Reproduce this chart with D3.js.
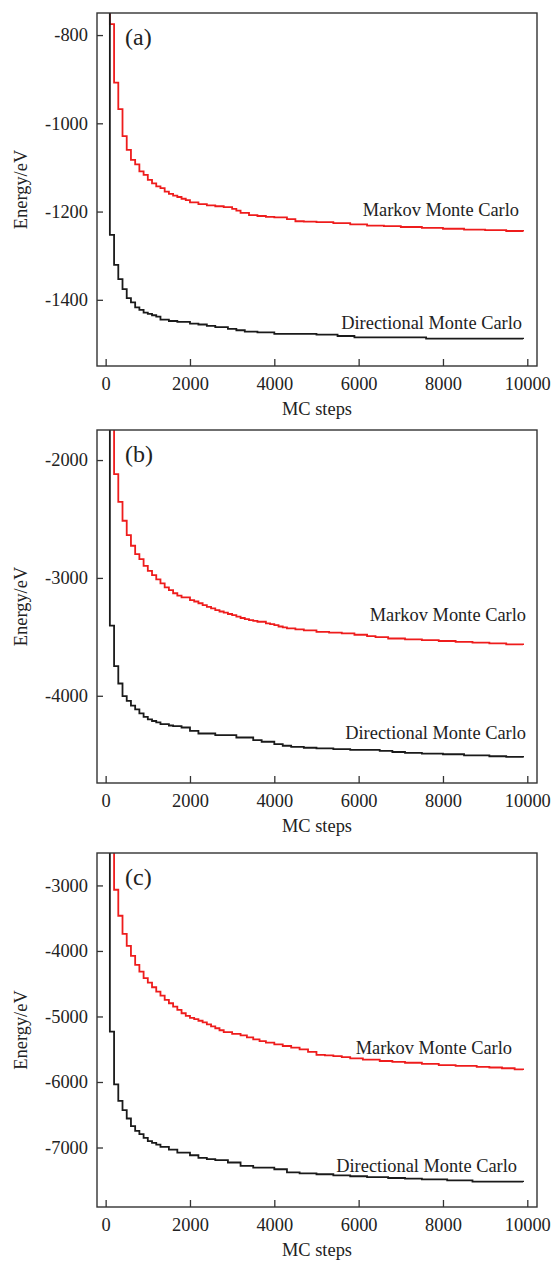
<!DOCTYPE html>
<html>
<head>
<meta charset="utf-8">
<script src="https://cdn.jsdelivr.net/npm/d3@7"></script>
<style>
  body { margin: 0; background: #fff; }
  svg text { font-family: "Liberation Serif", "DejaVu Serif", serif; fill: #222; }
</style>
</head>
<body>
<svg id="chart"></svg>
<script>
// --- Data: [MC step, energy (eV)] ---
const xTicks = [0, 2000, 4000, 6000, 8000, 10000];

const markovA = [[0,-600],[100,-775],[200,-908],[300,-968],[400,-1029],[500,-1060],[600,-1083],[700,-1093],[800,-1109],[900,-1117],[1000,-1128],[1100,-1136],[1200,-1143],[1300,-1147],[1400,-1155],[1500,-1160],[1600,-1164],[1700,-1167],[1800,-1171],[1900,-1174],[2000,-1179],[2200,-1183],[2400,-1186],[2600,-1188],[2800,-1190],[3000,-1194],[3100,-1198],[3200,-1203],[3400,-1208],[3600,-1210],[3800,-1212],[4000,-1213],[4300,-1217],[4500,-1222],[4700,-1223],[5000,-1224],[5400,-1226],[5800,-1229],[6200,-1232],[6600,-1233],[7000,-1235],[7500,-1237],[8000,-1239],[8500,-1241],[9000,-1242],[9500,-1244],[9900,-1245]];
const directionalA = [[0,-600],[100,-1253],[200,-1321],[300,-1353],[400,-1376],[500,-1396],[600,-1406],[700,-1417],[800,-1423],[900,-1429],[1000,-1432],[1100,-1435],[1200,-1438],[1300,-1445],[1500,-1448],[1700,-1450],[2000,-1454],[2200,-1456],[2400,-1459],[2600,-1462],[2900,-1466],[3100,-1469],[3300,-1472],[3600,-1474],[4000,-1477],[5000,-1479],[5500,-1482],[5900,-1485],[7600,-1488],[9900,-1489]];
const yTicksA = [-800, -1000, -1200, -1400];

const markovB = [[0,-1200],[200,-2119],[300,-2354],[400,-2515],[500,-2637],[600,-2727],[700,-2798],[800,-2840],[900,-2897],[1000,-2940],[1100,-2976],[1200,-3013],[1300,-3047],[1400,-3081],[1500,-3104],[1600,-3130],[1700,-3150],[1800,-3165],[2000,-3188],[2100,-3200],[2200,-3215],[2300,-3231],[2400,-3245],[2500,-3258],[2600,-3273],[2700,-3285],[2800,-3295],[2900,-3306],[3000,-3316],[3100,-3328],[3200,-3340],[3300,-3350],[3400,-3358],[3500,-3365],[3600,-3372],[3800,-3386],[3900,-3392],[4000,-3400],[4100,-3412],[4200,-3420],[4300,-3428],[4500,-3437],[4700,-3445],[5000,-3457],[5300,-3464],[5600,-3471],[5900,-3482],[6200,-3494],[6400,-3503],[6700,-3514],[7100,-3521],[7500,-3528],[7900,-3535],[8300,-3542],[8700,-3549],[9100,-3556],[9500,-3563],[9900,-3570]];
const directionalB = [[0,-1200],[100,-3404],[200,-3749],[300,-3896],[400,-4003],[500,-4043],[600,-4083],[700,-4116],[800,-4150],[900,-4179],[1000,-4201],[1100,-4214],[1200,-4226],[1300,-4241],[1500,-4252],[1600,-4258],[1800,-4269],[2000,-4298],[2200,-4320],[2600,-4334],[3100,-4354],[3500,-4377],[3700,-4390],[4000,-4411],[4200,-4424],[4400,-4433],[4700,-4441],[5000,-4447],[5400,-4453],[5800,-4459],[6500,-4468],[6800,-4477],[7100,-4485],[7500,-4490],[8000,-4496],[8500,-4505],[9100,-4513],[9500,-4519],[9900,-4524]];
const yTicksB = [-2000, -3000, -4000];

const markovC = [[0,-2000],[200,-3066],[300,-3463],[400,-3739],[500,-3922],[600,-4075],[700,-4213],[800,-4315],[900,-4416],[1000,-4483],[1100,-4554],[1200,-4621],[1300,-4682],[1400,-4748],[1500,-4798],[1600,-4850],[1700,-4900],[1800,-4951],[1900,-4992],[2000,-5020],[2100,-5040],[2200,-5065],[2300,-5090],[2400,-5120],[2500,-5150],[2600,-5180],[2700,-5210],[2800,-5240],[3000,-5265],[3200,-5290],[3350,-5320],[3500,-5349],[3650,-5375],[3800,-5400],[4000,-5425],[4200,-5451],[4400,-5477],[4600,-5502],[4800,-5540],[5000,-5585],[5200,-5595],[5400,-5604],[5600,-5620],[5800,-5639],[6100,-5658],[6500,-5680],[6800,-5693],[7100,-5706],[7500,-5724],[7900,-5742],[8300,-5755],[8800,-5768],[9100,-5779],[9400,-5790],[9700,-5806],[9900,-5818]];
const directionalC = [[0,-2000],[100,-5232],[200,-6037],[300,-6287],[400,-6430],[500,-6557],[600,-6674],[700,-6746],[800,-6797],[900,-6853],[1000,-6904],[1100,-6930],[1200,-6955],[1300,-6991],[1500,-7031],[1700,-7077],[2000,-7118],[2200,-7159],[2400,-7178],[2600,-7194],[2900,-7229],[3200,-7281],[3500,-7306],[4000,-7332],[4300,-7378],[4600,-7395],[5000,-7408],[5400,-7424],[5800,-7439],[6200,-7452],[6700,-7465],[7100,-7475],[7500,-7485],[8100,-7503],[8700,-7520],[9900,-7526]];
const yTicksC = [-3000, -4000, -5000, -6000, -7000];

const seriesNames = ["Markov Monte Carlo", "Directional Monte Carlo"];

// --- Layout ---
const width = 552, height = 1262;
const left = 97, right = 537;
const fontSize = 18.4;

const panels = [
    { tag: "(a)", top: 13, bottom: 366, yDomain: [-1550, -750], yTicks: yTicksA,
      markov: markovA, directional: directionalA, markovLabel: [519, 210], dirLabel: [522, 323] },
    { tag: "(b)", top: 430, bottom: 783, yDomain: [-4740, -1745], yTicks: yTicksB,
      markov: markovB, directional: directionalB, markovLabel: [526, 615], dirLabel: [526, 733] },
    { tag: "(c)", top: 853, bottom: 1207, yDomain: [-7908, -2505], yTicks: yTicksC,
      markov: markovC, directional: directionalC, markovLabel: [512, 1048], dirLabel: [517, 1166] }
];

const svg = d3.select("#chart")
    .attr("width", width)
    .attr("height", height)
    .style("background", "#fff");

panels.forEach((p, i) => {
    const x = d3.scaleLinear().domain([-205, 10230]).range([left, right]);
    const y = d3.scaleLinear().domain(p.yDomain).range([p.bottom, p.top]);
    const g = svg.append("g");

    // clip to the frame
    const clipId = "clip" + i;
    g.append("clipPath").attr("id", clipId)
        .append("rect")
        .attr("x", left).attr("y", p.top)
        .attr("width", right - left).attr("height", p.bottom - p.top);

    // --- Curves ---
    const line = d3.line()
        .x(d => x(d[0]))
        .y(d => y(d[1]))
        .curve(d3.curveStepAfter);

    g.append("path")
        .datum(p.markov)
        .attr("clip-path", `url(#${clipId})`)
        .attr("fill", "none")
        .attr("stroke", "#ee1c1c")
        .attr("stroke-width", 1.8)
        .attr("d", line);

    g.append("path")
        .datum(p.directional)
        .attr("clip-path", `url(#${clipId})`)
        .attr("fill", "none")
        .attr("stroke", "#1a1a1a")
        .attr("stroke-width", 1.8)
        .attr("d", line);

    // --- Axes (ticks inward) ---
    const xAxis = g.append("g")
        .attr("transform", `translate(0,${p.bottom})`)
        .call(d3.axisBottom(x).tickValues(xTicks).tickSize(-7).tickPadding(11).tickFormat(d3.format("d")));
    const yAxis = g.append("g")
        .attr("transform", `translate(${left},0)`)
        .call(d3.axisLeft(y).tickValues(p.yTicks).tickSize(-6).tickPadding(9).tickFormat(d => String(d)));

    [xAxis, yAxis].forEach(a => {
        a.select(".domain").remove();
        a.selectAll(".tick line").attr("stroke", "#333").attr("stroke-width", 1.3);
        a.selectAll(".tick text")
            .attr("font-size", fontSize)
            .attr("font-family", "Liberation Serif, serif")
            .attr("fill", "#222");
    });

    // frame
    g.append("rect")
        .attr("x", left).attr("y", p.top)
        .attr("width", right - left).attr("height", p.bottom - p.top)
        .attr("fill", "none")
        .attr("stroke", "#333")
        .attr("stroke-width", 1.4);

    // --- Texts ---
    g.append("text")
        .attr("x", 125).attr("y", p.top + 24)
        .attr("dy", "0.35em")
        .attr("font-size", 24)
        .text(p.tag);

    g.append("text")
        .attr("x", p.markovLabel[0]).attr("y", p.markovLabel[1])
        .attr("dy", "0.35em")
        .attr("text-anchor", "end")
        .attr("font-size", fontSize)
        .text(seriesNames[0]);

    g.append("text")
        .attr("x", p.dirLabel[0]).attr("y", p.dirLabel[1])
        .attr("dy", "0.35em")
        .attr("text-anchor", "end")
        .attr("font-size", fontSize)
        .text(seriesNames[1]);

    g.append("text")
        .attr("x", (left + right) / 2).attr("y", p.bottom + 43)
        .attr("dy", "0.35em")
        .attr("text-anchor", "middle")
        .attr("font-size", fontSize)
        .text("MC steps");

    g.append("text")
        .attr("transform", `translate(21,${(p.top + p.bottom) / 2}) rotate(-90)`)
        .attr("dy", "0.35em")
        .attr("text-anchor", "middle")
        .attr("font-size", fontSize)
        .text("Energy/eV");
});
</script>
</body>
</html>
